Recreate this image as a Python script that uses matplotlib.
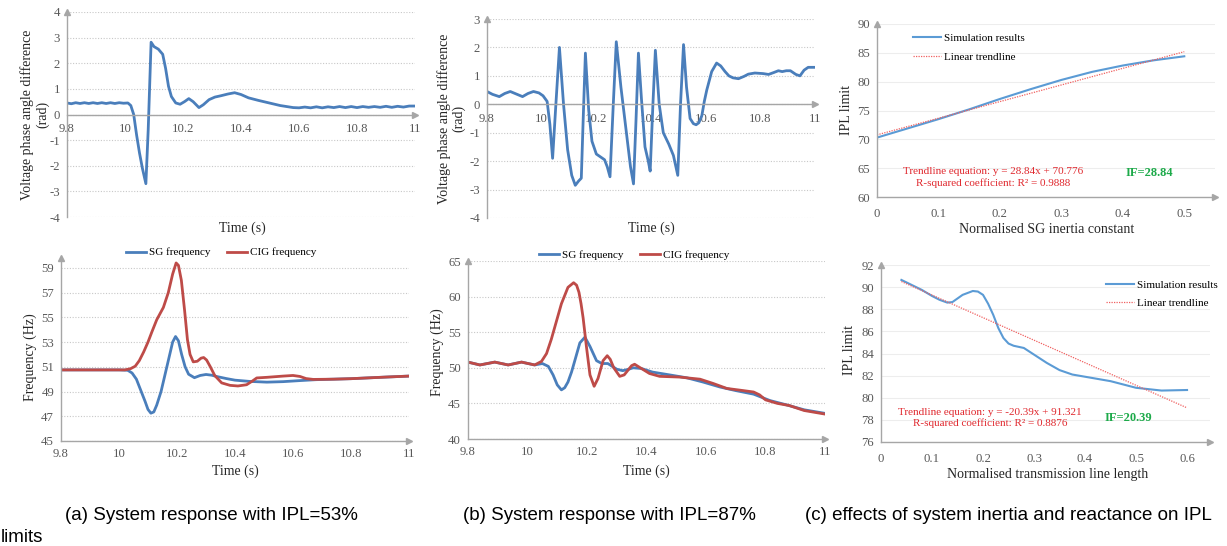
import matplotlib
matplotlib.use("Agg")
import matplotlib.pyplot as plt

# ---------------- data ----------------
# (a) top: voltage phase angle difference, IPL=53%
t_ang_a = [9.80, 9.815, 9.83, 9.845, 9.86, 9.875, 9.89, 9.905, 9.92, 9.935, 9.95, 9.965, 9.98, 9.995,
           10.01, 10.02, 10.03, 10.04, 10.05, 10.06, 10.072, 10.08, 10.09, 10.10, 10.115, 10.13, 10.14,
           10.15, 10.16, 10.175, 10.19, 10.205, 10.22, 10.235, 10.255, 10.27, 10.29, 10.31, 10.33, 10.355,
           10.378, 10.40, 10.426, 10.46, 10.49, 10.535, 10.58, 10.60, 10.62, 10.64, 10.66, 10.68, 10.70,
           10.72, 10.74, 10.76, 10.78, 10.80, 10.82, 10.84, 10.86, 10.88, 10.90, 10.92, 10.94, 10.96,
           10.98, 11.00]
ang_a = [0.45, 0.42, 0.46, 0.43, 0.46, 0.43, 0.46, 0.43, 0.46, 0.43, 0.46, 0.43, 0.46, 0.44,
         0.45, 0.35, 0.0, -0.8, -1.5, -2.1, -2.7, -0.6, 2.82, 2.65, 2.55, 2.35, 1.8,
         1.1, 0.7, 0.45, 0.4, 0.5, 0.62, 0.5, 0.27, 0.38, 0.58, 0.68, 0.73, 0.8,
         0.85, 0.78, 0.65, 0.55, 0.47, 0.35, 0.27, 0.26, 0.29, 0.26, 0.30, 0.26, 0.30,
         0.27, 0.31, 0.27, 0.31, 0.27, 0.31, 0.28, 0.31, 0.28, 0.32, 0.28, 0.32, 0.29,
         0.33, 0.33]

# (b) top: voltage phase angle difference, IPL=87%
t_ang_b = [9.80, 9.82, 9.845, 9.865, 9.885, 9.91, 9.93, 9.95, 9.97, 9.99, 10.005, 10.02, 10.03, 10.04,
           10.052, 10.065, 10.08, 10.095, 10.11, 10.123, 10.135, 10.145, 10.152, 10.16, 10.172, 10.184,
           10.20, 10.215, 10.23, 10.24, 10.25, 10.262, 10.273, 10.29, 10.31, 10.325, 10.336, 10.345,
           10.354, 10.365, 10.378, 10.39, 10.397, 10.407, 10.416, 10.43, 10.445, 10.465, 10.482, 10.498,
           10.508, 10.519, 10.53, 10.543, 10.555, 10.565, 10.575, 10.586, 10.595, 10.604, 10.622, 10.64,
           10.655, 10.671, 10.685, 10.70, 10.72, 10.74, 10.756, 10.78, 10.81, 10.83, 10.85, 10.866,
           10.88, 10.895, 10.91, 10.93, 10.945, 10.96, 10.975, 10.99, 11.00]
ang_b = [0.45, 0.35, 0.27, 0.38, 0.45, 0.35, 0.27, 0.38, 0.45, 0.40, 0.30, 0.10, -0.7, -1.9,
         0.0, 2.0, 0.0, -1.6, -2.5, -2.85, -2.7, -2.6, -0.5, 1.8, -0.2, -1.3,
         -1.75, -1.85, -1.95, -2.2, -2.55, 0.0, 2.2, 0.6, -1.0, -2.2, -2.8, -0.6,
         1.8, 0.2, -1.5, -2.0, -2.35, 0.0, 1.9, 0.0, -1.0, -1.4, -1.8, -2.5,
         0.0, 2.1, 0.6, -0.5, -0.68, -0.72, -0.65, -0.4, 0.1, 0.5, 1.15, 1.45,
         1.35, 1.15, 1.0, 0.93, 0.9, 0.98, 1.06, 1.1, 1.08, 1.05, 1.12, 1.18,
         1.15, 1.18, 1.18, 1.05, 1.0, 1.2, 1.3, 1.3, 1.3]

# (a) bottom: frequencies, IPL=53%
t_sg_a = [9.80, 10.00, 10.03, 10.045, 10.06, 10.075, 10.09, 10.10, 10.11, 10.12, 10.13, 10.145, 10.16,
          10.175, 10.185, 10.195, 10.205, 10.216, 10.228, 10.24, 10.26, 10.28, 10.30, 10.32, 10.34,
          10.37, 10.40, 10.45, 10.51, 10.566, 10.62, 10.68, 10.74, 10.80, 10.855, 10.92, 11.00]
sg_a = [50.75, 50.75, 50.72, 50.5, 50.0, 49.1, 48.2, 47.55, 47.25, 47.35, 47.9, 49.0, 50.5,
        52.0, 53.0, 53.45, 53.1, 52.0, 51.0, 50.4, 50.12, 50.3, 50.38, 50.32, 50.2,
        50.05, 49.92, 49.82, 49.76, 49.8, 49.88, 49.96, 50.0, 50.04, 50.1, 50.17, 50.25]
t_cig_a = [9.80, 10.02, 10.04, 10.056, 10.07, 10.085, 10.10, 10.113, 10.13, 10.153, 10.17, 10.185,
           10.197, 10.205, 10.215, 10.226, 10.236, 10.245, 10.256, 10.27, 10.283, 10.292, 10.302,
           10.315, 10.33, 10.354, 10.383, 10.41, 10.44, 10.46, 10.475, 10.51, 10.566, 10.60, 10.624,
           10.645, 10.67, 10.74, 10.80, 10.855, 10.92, 11.00]
cig_a = [50.75, 50.75, 50.85, 51.05, 51.5, 52.2, 53.0, 53.8, 54.8, 55.8, 57.0, 58.5,
         59.4, 59.2, 58.0, 55.6, 53.2, 52.0, 51.4, 51.45, 51.7, 51.75, 51.55,
         51.0, 50.3, 49.7, 49.5, 49.45, 49.55, 49.85, 50.1, 50.15, 50.25, 50.3, 50.22,
         50.05, 49.98, 50.0, 50.04, 50.1, 50.17, 50.25]

# (b) bottom: frequencies, IPL=87%
t_sg_b = [9.80, 9.84, 9.89, 9.935, 9.98, 10.024, 10.05, 10.07, 10.086, 10.10, 10.114, 10.125, 10.136,
          10.148, 10.159, 10.176, 10.193, 10.21, 10.232, 10.25, 10.27, 10.285, 10.30, 10.32, 10.34,
          10.355, 10.383, 10.42, 10.478, 10.535, 10.59, 10.647, 10.70, 10.76, 10.815, 10.87, 10.93, 11.00]
sg_b = [50.8, 50.4, 50.8, 50.4, 50.8, 50.4, 50.6, 50.2, 49.0, 47.6, 46.9, 47.2, 48.0,
        49.4, 51.0, 53.5, 54.3, 53.0, 51.0, 50.6, 50.6, 50.2, 49.8, 49.6, 49.8,
        50.0, 49.9, 49.4, 49.0, 48.6, 48.0, 47.3, 46.8, 46.3, 45.4, 44.8, 44.1, 43.6]
t_cig_b = [9.80, 9.84, 9.89, 9.935, 9.98, 10.024, 10.047, 10.064, 10.08, 10.097, 10.114, 10.136,
           10.155, 10.165, 10.173, 10.18, 10.187, 10.198, 10.21, 10.224, 10.237, 10.254, 10.268,
           10.278, 10.29, 10.31, 10.325, 10.35, 10.36, 10.383, 10.41, 10.444, 10.51, 10.58, 10.624,
           10.67, 10.725, 10.76, 10.78, 10.80, 10.84, 10.88, 10.93, 11.00]
cig_b = [50.8, 50.4, 50.8, 50.4, 50.8, 50.4, 50.9, 52.0, 54.0, 56.5, 59.0, 61.3,
         61.95, 61.6, 60.6, 59.0, 57.0, 53.0, 49.0, 47.4, 48.5, 51.0, 51.7,
         51.2, 50.0, 48.8, 49.0, 50.3, 50.5, 49.9, 49.2, 48.8, 48.7, 48.4, 47.8,
         47.1, 46.8, 46.6, 46.2, 45.5, 45.0, 44.7, 44.0, 43.5]

# (c) top: IPL limit vs normalised SG inertia constant
inertia = [0.0, 0.05, 0.1, 0.15, 0.2, 0.25, 0.3, 0.35, 0.4, 0.45, 0.5]
ipl_inertia = [70.3, 71.9, 73.5, 75.2, 77.0, 78.7, 80.3, 81.7, 82.8, 83.7, 84.4]
trend_inertia_x = [0.0, 0.5]
trend_inertia_y = [70.776, 85.196]

# (c) bottom: IPL limit vs normalised transmission line length
length = [0.04, 0.06, 0.08, 0.10, 0.115, 0.13, 0.14, 0.16, 0.18, 0.19, 0.20, 0.21, 0.22, 0.23,
          0.24, 0.25, 0.26, 0.28, 0.30, 0.325, 0.35, 0.375, 0.40, 0.45, 0.50, 0.55, 0.60]
ipl_length = [90.65, 90.2, 89.75, 89.2, 88.85, 88.6, 88.65, 89.3, 89.65, 89.6, 89.3, 88.5, 87.5, 86.3,
              85.4, 84.9, 84.7, 84.5, 83.9, 83.15, 82.5, 82.1, 81.9, 81.5, 80.9, 80.65, 80.7]
trend_length_x = [0.04, 0.60]
trend_length_y = [90.505, 79.087]

captions = ["(a) System response with IPL=53%",
            "(b) System response with IPL=87%",
            "(c) effects of system inertia and reactance on IPL"]

# ---------------- style ----------------
SERIF = ["Liberation Serif", "DejaVu Serif"]
SANS = ["Liberation Sans", "DejaVu Sans"]
plt.rcParams["font.family"] = SERIF
plt.rcParams["axes.unicode_minus"] = False
AX_C = "#A6A6A6"
TXT_C = "#595959"
LAB_C = "#262626"
BLUE = "#4A7EBB"
RED = "#BE4B48"
LBLUE = "#5B9BD5"
TRED = "#F06060"
EQ_C = "#E0282E"
IF_C = "#1DAA4A"
TICK_FS = 9.2
LAB_FS = 10

fig = plt.figure(figsize=(12.27, 5.46), dpi=100)


def px_axes(x0, y0, x1, y1):
    W, H = 1227.0, 546.0
    return fig.add_axes([x0 / W, 1 - y1 / H, (x1 - x0) / W, (y1 - y0) / H])


def style(ax, xzero=False, grid_style="dotted", xpad=5):
    for s in ("top", "right"):
        ax.spines[s].set_visible(False)
    for s in ("left", "bottom"):
        ax.spines[s].set_color(AX_C)
        ax.spines[s].set_linewidth(1.0)
    if xzero:
        ax.spines["bottom"].set_position(("data", 0))
    ax.tick_params(length=0, labelsize=TICK_FS, colors=TXT_C)
    ax.tick_params(axis="y", pad=5)
    ax.tick_params(axis="x", pad=xpad)
    if grid_style == "dotted":
        ax.yaxis.grid(True, linestyle=(0, (1, 1.5)), color="#C8C8C8", linewidth=0.8)
    else:
        ax.yaxis.grid(True, linestyle="-", color="#EDEDED", linewidth=0.8)
    ax.set_axisbelow(True)
    ax.plot([1], [0], marker=">", color=AX_C, markersize=5,
            transform=(ax.get_yaxis_transform() if xzero else ax.transAxes), clip_on=False)
    ax.plot([0], [1], marker="^", color=AX_C, markersize=5, transform=ax.transAxes, clip_on=False)


time_ticks = [9.8, 10, 10.2, 10.4, 10.6, 10.8, 11]
time_labels = ["9.8", "10", "10.2", "10.4", "10.6", "10.8", "11"]

# (a) top
ax1 = px_axes(67, 12, 415, 217)
ax1.plot(t_ang_a, ang_a, color=BLUE, lw=2.0, solid_joinstyle="round")
ax1.set_xlim(9.8, 11)
ax1.set_ylim(-4, 4)
ax1.set_xticks(time_ticks)
ax1.set_xticklabels(time_labels)
ax1.set_yticks(range(-4, 5))
style(ax1, xzero=True, xpad=6)
ax1.set_xlabel("Time (s)", fontsize=LAB_FS, color=LAB_C)
ax1.xaxis.set_label_coords(0.503, -0.022)
ax1.set_ylabel("Voltage phase angle difference\n(rad)", fontsize=LAB_FS, color=LAB_C, linespacing=1.1)
ax1.yaxis.set_label_coords(-0.052, 0.5)

# (b) top
ax2 = px_axes(487, 19, 815, 218)
ax2.plot(t_ang_b, ang_b, color=BLUE, lw=2.0, solid_joinstyle="round")
ax2.set_xlim(9.8, 11)
ax2.set_ylim(-4, 3)
ax2.set_xticks(time_ticks)
ax2.set_xticklabels(time_labels)
ax2.set_yticks(range(-4, 4))
style(ax2, xzero=True, xpad=6)
ax2.set_xlabel("Time (s)", fontsize=LAB_FS, color=LAB_C)
ax2.xaxis.set_label_coords(0.5, -0.017)
ax2.set_ylabel("Voltage phase angle difference\n(rad)", fontsize=LAB_FS, color=LAB_C, linespacing=1.1)
ax2.yaxis.set_label_coords(-0.066, 0.5)

# (c) top
ax3 = px_axes(877, 24, 1215, 197)
ax3.plot(inertia, ipl_inertia, color=LBLUE, lw=1.5, label="Simulation results")
ax3.plot(trend_inertia_x, trend_inertia_y, color=TRED, lw=0.9, linestyle=(0, (1, 1)), label="Linear trendline")
ax3.set_xlim(0, 0.55)
ax3.set_ylim(60, 90)
ax3.set_xticks([0, 0.1, 0.2, 0.3, 0.4, 0.5])
ax3.set_xticklabels(["0", "0.1", "0.2", "0.3", "0.4", "0.5"])
ax3.set_yticks(range(60, 91, 5))
style(ax3, grid_style="solid", xpad=8)
ax3.set_xlabel("Normalised SG inertia constant", fontsize=LAB_FS, color=LAB_C)
ax3.xaxis.set_label_coords(0.503, -0.15)
ax3.set_ylabel("IPL limit", fontsize=LAB_FS, color=LAB_C)
ax3.yaxis.set_label_coords(-0.07, 0.503)
ax3.legend(loc="upper left", bbox_to_anchor=(0.083, 0.99), frameon=False, fontsize=8,
           handlelength=2.5, handletextpad=0.3, labelspacing=0.8, borderpad=0.2)
ax3.text(0.189, 64.5, "Trendline equation: y = 28.84x + 70.776", color=EQ_C,
         fontsize=8, ha="center", va="center")
ax3.text(0.189, 62.4, "R-squared coefficient: R² = 0.9888", color=EQ_C,
         fontsize=8, ha="center", va="center")
ax3.text(0.444, 64.2, "IF=28.84", color=IF_C, fontsize=9, fontweight="bold",
         ha="center", va="center")

# (a) bottom
ax4 = px_axes(61, 258, 409, 441)
ax4.plot(t_sg_a, sg_a, color=BLUE, lw=2.0, label="SG frequency")
ax4.plot(t_cig_a, cig_a, color=RED, lw=2.0, label="CIG frequency")
ax4.set_xlim(9.8, 11)
ax4.set_ylim(45, 59.8)
ax4.set_xticks(time_ticks)
ax4.set_xticklabels(time_labels)
ax4.set_yticks(range(45, 60, 2))
style(ax4, xpad=5)
ax4.set_xlabel("Time (s)", fontsize=LAB_FS, color=LAB_C)
ax4.xaxis.set_label_coords(0.5, -0.13)
ax4.set_ylabel("Frequency (Hz)", fontsize=LAB_FS, color=LAB_C)
ax4.yaxis.set_label_coords(-0.069, 0.46)
ax4.legend(loc="center", bbox_to_anchor=(0.46, 1.03), ncol=2, frameon=False, fontsize=8,
           handlelength=1.8, handletextpad=0.25, columnspacing=1.5, borderpad=0)

# (b) bottom
ax5 = px_axes(468, 261, 825, 439)
ax5.plot(t_sg_b, sg_b, color=BLUE, lw=2.0, label="SG frequency")
ax5.plot(t_cig_b, cig_b, color=RED, lw=2.0, label="CIG frequency")
ax5.set_xlim(9.8, 11)
ax5.set_ylim(40, 65)
ax5.set_xticks(time_ticks)
ax5.set_xticklabels(time_labels)
ax5.set_yticks(range(40, 66, 5))
style(ax5, xpad=5)
ax5.set_xlabel("Time (s)", fontsize=LAB_FS, color=LAB_C)
ax5.xaxis.set_label_coords(0.5, -0.145)
ax5.set_ylabel("Frequency (Hz)", fontsize=LAB_FS, color=LAB_C)
ax5.yaxis.set_label_coords(-0.067, 0.49)
ax5.legend(loc="center", bbox_to_anchor=(0.465, 1.034), ncol=2, frameon=False, fontsize=8,
           handlelength=1.8, handletextpad=0.25, columnspacing=1.5, borderpad=0)

# (c) bottom
ax6 = px_axes(881, 265, 1210, 442)
ax6.plot(length, ipl_length, color=LBLUE, lw=1.5, label="Simulation results")
ax6.plot(trend_length_x, trend_length_y, color=TRED, lw=0.9, linestyle=(0, (1, 1)), label="Linear trendline")
ax6.set_xlim(0, 0.645)
ax6.set_ylim(76, 92)
ax6.set_xticks([0, 0.1, 0.2, 0.3, 0.4, 0.5, 0.6])
ax6.set_xticklabels(["0", "0.1", "0.2", "0.3", "0.4", "0.5", "0.6"])
ax6.set_yticks(range(76, 93, 2))
style(ax6, grid_style="solid", xpad=8)
ax6.set_xlabel("Normalised transmission line length", fontsize=LAB_FS, color=LAB_C)
ax6.xaxis.set_label_coords(0.505, -0.147)
ax6.set_ylabel("IPL limit", fontsize=LAB_FS, color=LAB_C)
ax6.yaxis.set_label_coords(-0.075, 0.52)
ax6.legend(loc="upper left", bbox_to_anchor=(0.66, 0.96), frameon=False, fontsize=8,
           handlelength=2.5, handletextpad=0.3, labelspacing=0.8, borderpad=0.2)
ax6.text(0.214, 78.7, "Trendline equation: y = -20.39x + 91.321", color=EQ_C,
         fontsize=8, ha="center", va="center")
ax6.text(0.214, 77.7, "R-squared coefficient: R² = 0.8876", color=EQ_C,
         fontsize=8, ha="center", va="center")
ax6.text(0.484, 78.17, "IF=20.39", color=IF_C, fontsize=9, fontweight="bold",
         ha="center", va="center")

# captions
CAP_FS = 13.5
fig.text(65 / 1227, 1 - 515 / 546, captions[0], family=SANS, fontsize=CAP_FS, ha="left", va="center")
fig.text(463 / 1227, 1 - 515 / 546, captions[1], family=SANS, fontsize=CAP_FS, ha="left", va="center")
fig.text(805 / 1227, 1 - 515 / 546, captions[2], family=SANS, fontsize=CAP_FS, ha="left", va="center")
fig.text(1 / 1227, 1 - 538 / 546, "limits", family=SANS, fontsize=CAP_FS, ha="left", va="center")

fig.savefig("out.png", dpi=100)
